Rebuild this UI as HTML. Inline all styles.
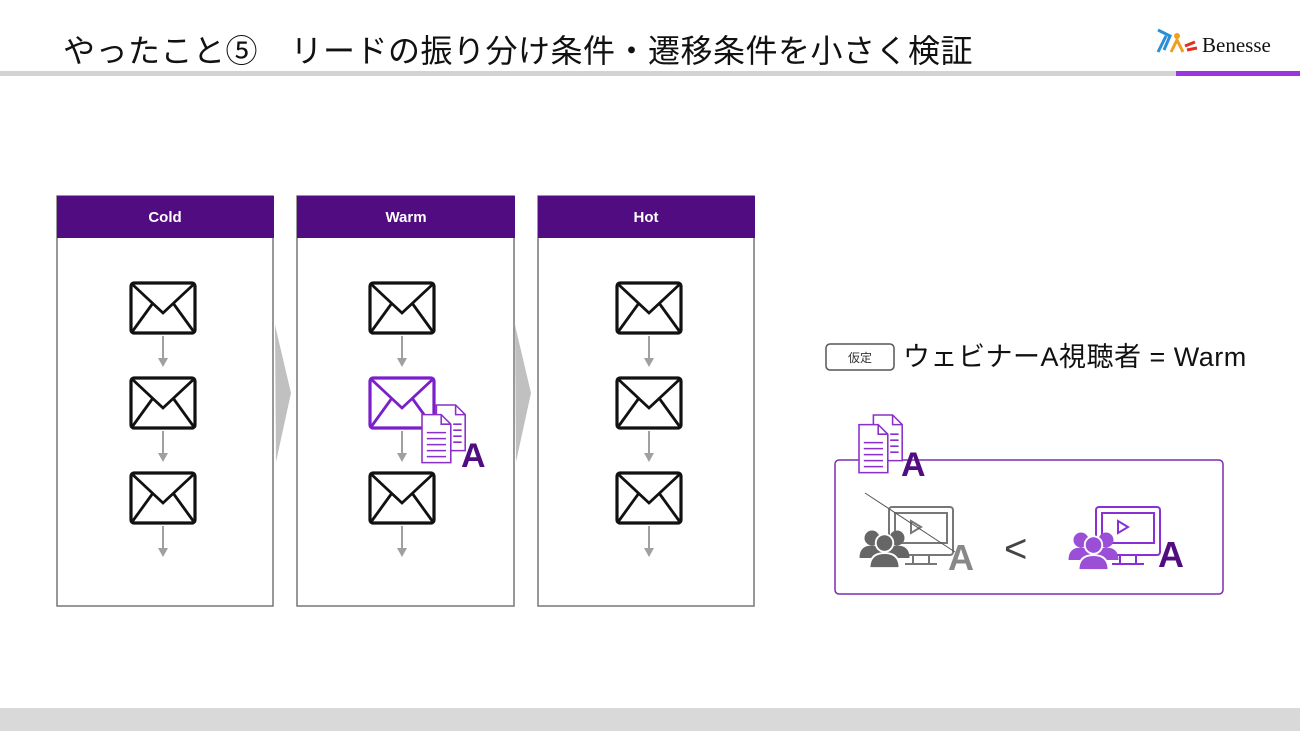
<!DOCTYPE html>
<html><head><meta charset="utf-8"><style>
html,body{margin:0;padding:0;background:#fff;}
svg{display:block;}
text{font-family:"Liberation Sans","Noto Sans CJK JP",sans-serif;}
</style></head><body>
<svg width="1300" height="731" viewBox="0 0 1300 731" xmlns="http://www.w3.org/2000/svg">
<defs>
<g id="env"><rect x="-32" y="-25" width="64" height="50" rx="3" fill="#fff" stroke-width="3.2"/><path d="M-31,-24 L0,5 L31,-24 M-31,24 L-10,-5 M31,24 L10,-5" fill="none" stroke-width="2.8"/></g>
<g id="arr"><line x1="0" y1="0" x2="0" y2="24" stroke="#a0a0a0" stroke-width="2"/><path d="M-5,22 L5,22 L0,31 Z" fill="#a0a0a0"/></g>
<g id="doc"><path d="M12,0 L28,0 L36,8 L36,38 L12,38 Z" fill="#fff" stroke="#8a2fc9" stroke-width="1.3"/><path d="M28,0 L28,8 L36,8" fill="none" stroke="#8a2fc9" stroke-width="1.3"/><path d="M0,8 L16,8 L24,16 L24,48 L0,48 Z" fill="#fff" stroke="#8a2fc9" stroke-width="1.3"/><path d="M16,8 L16,16 L24,16" fill="none" stroke="#8a2fc9" stroke-width="1.3"/><path d="M4,23 H20 M4,28 H20 M4,33 H20 M4,38 H20 M4,43 H20 M26,16 H33 M26,21 H33 M26,26 H33 M26,31 H33" stroke="#8a2fc9" stroke-width="1.3"/></g>
<g id="ppl"><circle cx="8" cy="8" r="6"/><path d="M-2,24 Q-2,14 8,14 Q18,14 18,24 Z"/><circle cx="28" cy="8" r="6"/><path d="M18,24 Q18,14 28,14 Q38,14 38,24 Z"/><circle cx="18" cy="12" r="7" stroke="#fff" stroke-width="1.5"/><path d="M6,32 Q6,20 18,20 Q30,20 30,32 Z" stroke="#fff" stroke-width="1.5"/></g>
<g id="mon"><rect x="0" y="0" width="64" height="48" rx="3" fill="#fff" stroke-width="2"/><rect x="6" y="6" width="52" height="30" fill="none" stroke-width="2"/><path d="M22,14 L32,20 L22,26 Z" fill="none" stroke-width="2"/><path d="M24,48 V56 M40,48 V56 M16,57 H48" stroke-width="2"/></g>
</defs>
<text x="63" y="62" font-size="32" letter-spacing="0.5" fill="#111">やったこと⑤　リードの振り分け条件・遷移条件を小さく検証</text>
<rect x="0" y="71" width="1300" height="5" fill="#d3d3d3"/>
<rect x="1176" y="71" width="124" height="5" fill="#9a35e0"/>
<text x="1202" y="52" font-size="21" fill="#111" style="font-family:'Liberation Serif',serif">Benesse</text>
<path d="M1158,30 L1170,36 L1164,50 M1166,36 L1158,52" stroke="#2a8fd6" stroke-width="3" fill="none"/>
<circle cx="1177" cy="36" r="3" fill="#f0a020"/><path d="M1171,52 L1177,40 L1183,52" stroke="#f0a020" stroke-width="3" fill="none"/>
<path d="M1185,46 L1195,42 M1187,50 L1197,48" stroke="#e03020" stroke-width="3"/>
<rect x="0" y="708" width="1300" height="23" fill="#d9d9d9"/>

<g stroke="#777" stroke-width="1.5" fill="#fff">
<rect x="57" y="196" width="216" height="410"/><rect x="297" y="196" width="217" height="410"/><rect x="538" y="196" width="216" height="410"/>
</g>
<g fill="#520c82"><rect x="57" y="196" width="217" height="42"/><rect x="297" y="196" width="218" height="42"/><rect x="538" y="196" width="217" height="42"/></g>
<g fill="#fff" font-size="15" font-weight="bold" text-anchor="middle">
<text x="165" y="222">Cold</text><text x="406" y="222">Warm</text><text x="646" y="222">Hot</text></g>
<path d="M275,325 L291,393 L276,462 Z M515,325 L531,393 L516,462 Z" fill="#c0c0c0"/>

<g stroke="#111">
<use href="#env" x="163" y="308"/><use href="#env" x="163" y="403"/><use href="#env" x="163" y="498"/>
<use href="#env" x="402" y="308"/><use href="#env" x="402" y="498"/>
<use href="#env" x="649" y="308"/><use href="#env" x="649" y="403"/><use href="#env" x="649" y="498"/>
</g>
<use href="#env" x="402" y="403" stroke="#7a1fc9"/>
<g><use href="#arr" x="163" y="336"/><use href="#arr" x="163" y="431"/><use href="#arr" x="163" y="526"/>
<use href="#arr" x="402" y="336"/><use href="#arr" x="402" y="431"/><use href="#arr" x="402" y="526"/>
<use href="#arr" x="649" y="336"/><use href="#arr" x="649" y="431"/><use href="#arr" x="649" y="526"/></g>
<use href="#doc" transform="translate(422,405) scale(1.2)"/>
<text x="461" y="467" font-size="34" font-weight="bold" fill="#520c82">A</text>

<rect x="826" y="344" width="68" height="26" rx="4" fill="#fff" stroke="#555" stroke-width="1.5"/>
<text x="860" y="362" font-size="12" text-anchor="middle" fill="#333">仮定</text>
<text x="903" y="366" font-size="27" letter-spacing="0.5" fill="#111">ウェビナーA視聴者 = Warm</text>

<rect x="835" y="460" width="388" height="134" rx="4" fill="#fff" stroke="#7a2db0" stroke-width="1.5"/>
<use href="#doc" transform="translate(859,415) scale(1.2)"/>
<text x="901" y="476" font-size="34" font-weight="bold" fill="#520c82">A</text>

<use href="#mon" x="889" y="507" stroke="#777"/>
<use href="#ppl" transform="translate(862,528) scale(1.25)" fill="#666"/>
<text x="948" y="570" font-size="36" font-weight="bold" fill="#888">A</text>
<line x1="865" y1="493" x2="955" y2="552" stroke="#555" stroke-width="1"/>
<text x="1004" y="562" font-size="40" fill="#444">&lt;</text>
<use href="#mon" x="1096" y="507" stroke="#8a2fd6"/>
<use href="#ppl" transform="translate(1071,530) scale(1.25)" fill="#9a4fd6"/>
<text x="1158" y="567" font-size="36" font-weight="bold" fill="#520c82">A</text>
</svg>
</body></html>
